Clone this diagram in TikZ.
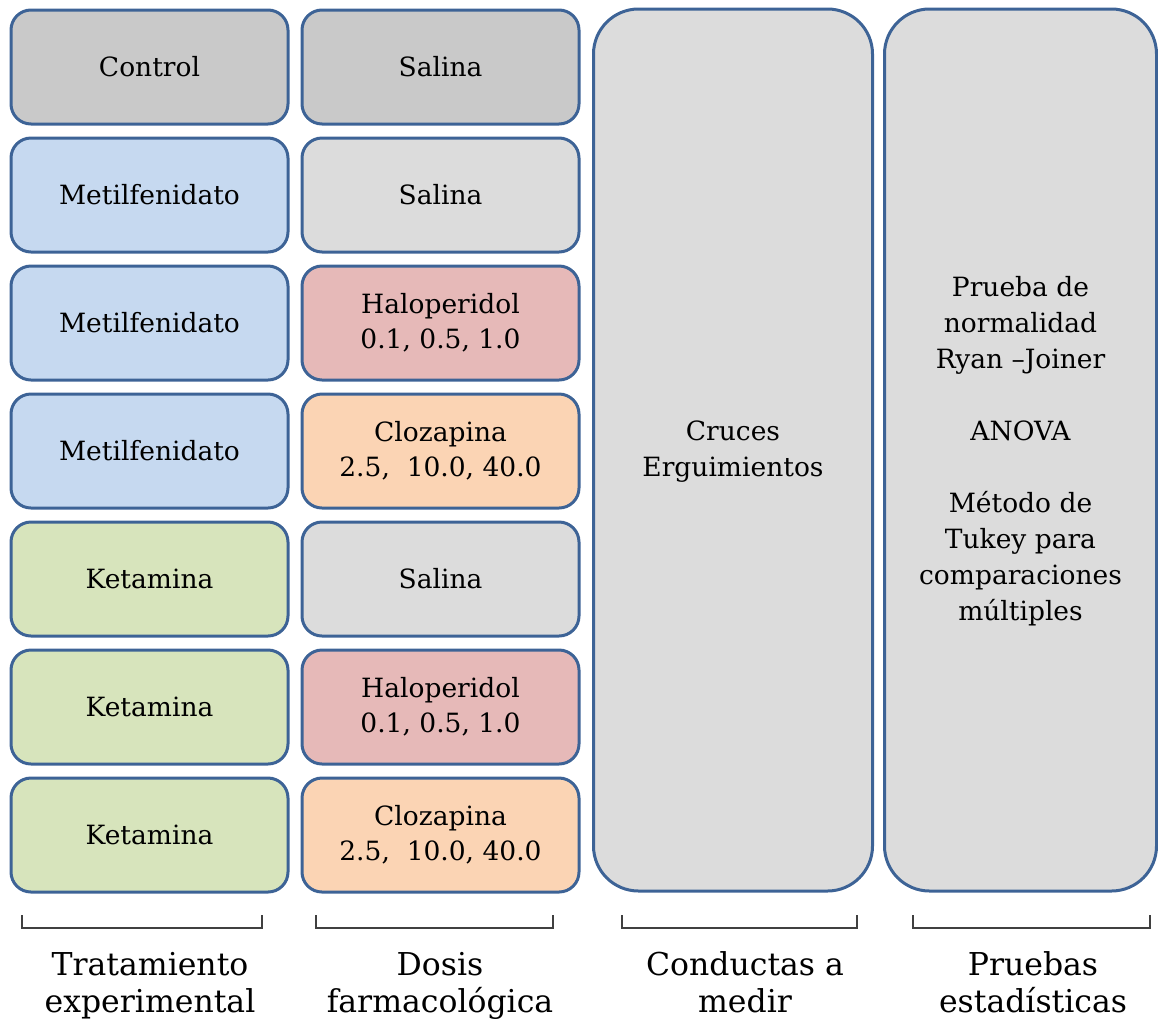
\documentclass[tikz,border=0pt]{standalone}
\usepackage{fontspec}
\setmainfont{DejaVu Serif}
\definecolor{bord}{HTML}{3D6396}
\definecolor{gdark}{HTML}{C9C9C9}
\definecolor{glight}{HTML}{DCDCDC}
\definecolor{blu}{HTML}{C6D9F0}
\definecolor{pnk}{HTML}{E6B9B8}
\definecolor{org}{HTML}{FBD4B4}
\definecolor{grn}{HTML}{D7E4BC}
\definecolor{brk}{HTML}{404040}
\tikzset{
  sbox/.style={draw=bord, line width=3pt, rounded corners=20pt, minimum width=277pt, minimum height=114pt, align=center, inner sep=0pt, font=\fontsize{26.5}{35}\selectfont},
  bbox/.style={draw=bord, line width=3pt, rounded corners=45pt, fill=glight, minimum height=882pt, align=center, inner sep=0pt},
  btxt/.style={align=center, inner sep=0pt, font=\fontsize{26.5}{36}\selectfont},
  lbl/.style={align=center, inner sep=0pt, anchor=north, font=\fontsize{31.5}{37}\selectfont},
  brack/.style={draw=brk, line width=1.5pt}
}
\begin{document}
\begin{tikzpicture}[x=1pt,y=-1pt]
\useasboundingbox (0,0) rectangle (1158,1021);
% column 1
\node[sbox, fill=gdark] (t1) at (149.5,67) {Control};
\node[sbox, fill=blu] (t2) at (149.5,195) {Metilfenidato};
\node[sbox, fill=blu] (t3) at (149.5,323) {Metilfenidato};
\node[sbox, fill=blu] (t4) at (149.5,451) {Metilfenidato};
\node[sbox, fill=grn] (t5) at (149.5,579) {Ketamina};
\node[sbox, fill=grn] (t6) at (149.5,707) {Ketamina};
\node[sbox, fill=grn] (t7) at (149.5,835) {Ketamina};
% column 2
\node[sbox, fill=gdark] (d1) at (440.5,67) {Salina};
\node[sbox, fill=glight] (d2) at (440.5,195) {Salina};
\node[sbox, fill=pnk] (d3) at (440.5,323) {Haloperidol\\0.1, 0.5, 1.0};
\node[sbox, fill=org] (d4) at (440.5,451) {Clozapina\\2.5,~ 10.0, 40.0};
\node[sbox, fill=glight] (d5) at (440.5,579) {Salina};
\node[sbox, fill=pnk] (d6) at (440.5,707) {Haloperidol\\0.1, 0.5, 1.0};
\node[sbox, fill=org] (d7) at (440.5,835) {Clozapina\\2.5,~ 10.0, 40.0};
% big boxes
\node[bbox, minimum width=279pt] (c) at (733,450) {};
\node[btxt] (ct) at (733,452) {Cruces\\Erguimientos};
\node[bbox, minimum width=272pt] (p) at (1020.5,450) {};
\node[btxt] (pt) at (1020.5,451) {Prueba de\\normalidad\\Ryan --Joiner\\[36pt]ANOVA\\[36pt]Método de\\Tukey para\\comparaciones\\múltiples};
% brackets
\coordinate (b1a) at (22,915); \coordinate (b1b) at (262,915);
\coordinate (b2a) at (316,915); \coordinate (b2b) at (553,915);
\coordinate (b3a) at (622,915); \coordinate (b3b) at (857,915);
\coordinate (b4a) at (913,915); \coordinate (b4b) at (1150,915);
\draw[brack] (b1a) -- ++(0,13) -| (b1b);
\draw[brack] (b2a) -- ++(0,13) -| (b2b);
\draw[brack] (b3a) -- ++(0,13) -| (b3b);
\draw[brack] (b4a) -- ++(0,13) -| (b4b);
% labels
\node[lbl] (l1) at (150,949) {\strut Tratamiento\\\strut experimental};
\node[lbl] (l2) at (440,949) {\strut Dosis\\\strut farmacológica};
\node[lbl] (l3) at (745,949) {\strut Conductas a\\\strut medir};
\node[lbl] (l4) at (1033,949) {\strut Pruebas\\\strut estadísticas};
\end{tikzpicture}
\end{document}
